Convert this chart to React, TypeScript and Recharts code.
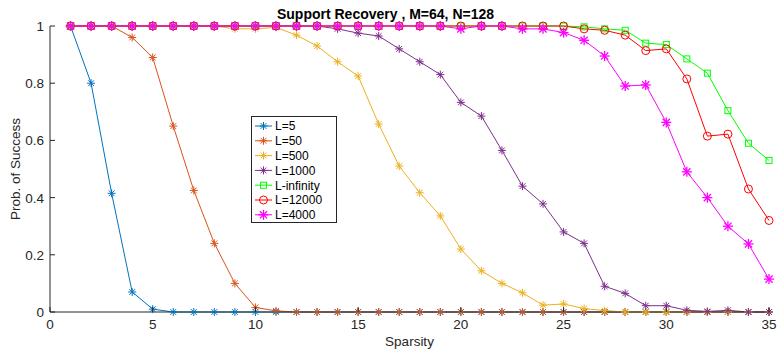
import { LineChart, Line, XAxis, YAxis, Legend, Label } from "recharts";

const sparsity = [1, 2, 3, 4, 5, 6, 7, 8, 9, 10, 11, 12, 13, 14, 15, 16, 17, 18, 19, 20, 21, 22, 23, 24, 25, 26, 27, 28, 29, 30, 31, 32, 33, 34, 35];

const l5 = [1, 0.8, 0.415, 0.07, 0.01, 0, 0, 0, 0, 0, 0, 0, 0, 0, 0, 0, 0, 0, 0, 0, 0, 0, 0, 0, 0, 0, 0, 0, 0, 0, 0, 0, 0, 0, 0];
const l50 = [1, 1, 1, 0.96, 0.89, 0.65, 0.425, 0.24, 0.1, 0.016, 0.004, 0, 0, 0, 0, 0, 0, 0, 0, 0, 0, 0, 0, 0, 0, 0, 0, 0, 0, 0, 0, 0, 0, 0, 0];
const l500 = [1, 1, 1, 1, 1, 1, 1, 1, 0.99, 0.99, 0.995, 0.968, 0.93, 0.875, 0.825, 0.657, 0.51, 0.417, 0.336, 0.22, 0.144, 0.1, 0.067, 0.024, 0.028, 0.012, 0.005, 0, 0, 0, 0, 0, 0, 0, 0];
const l1000 = [1, 1, 1, 1, 1, 1, 1, 1, 1, 1, 1, 1, 1, 0.99, 0.975, 0.965, 0.92, 0.875, 0.83, 0.733, 0.685, 0.565, 0.44, 0.378, 0.28, 0.24, 0.09, 0.065, 0.022, 0.022, 0.006, 0.002, 0.006, 0, 0];
const lInf = [1, 1, 1, 1, 1, 1, 1, 1, 1, 1, 1, 1, 1, 1, 1, 1, 1, 1, 1, 1, 1, 1, 1, 1, 1, 0.997, 0.99, 0.985, 0.94, 0.935, 0.885, 0.835, 0.704, 0.59, 0.53];
const l12000 = [1, 1, 1, 1, 1, 1, 1, 1, 1, 1, 1, 1, 1, 1, 1, 1, 1, 1, 1, 1, 1, 1, 1, 1, 1, 0.99, 0.985, 0.968, 0.914, 0.92, 0.815, 0.615, 0.622, 0.43, 0.32];
const l4000 = [1, 1, 1, 1, 1, 1, 1, 1, 1, 1, 1, 1, 1, 1, 1, 1, 1, 1, 1, 0.99, 1, 1, 0.99, 0.99, 0.977, 0.95, 0.895, 0.79, 0.794, 0.663, 0.49, 0.4, 0.3, 0.238, 0.115];

const xTicks = [0, 5, 10, 15, 20, 25, 30, 35];
const yTicks = [0, 0.2, 0.4, 0.6, 0.8, 1];

type Marker = "star" | "bigstar" | "square" | "circle";

const SERIES: { key: string; name: string; color: string; marker: Marker; values: number[] }[] = [
  { key: "l5", name: "L=5", color: "#0072BD", marker: "star", values: l5 },
  { key: "l50", name: "L=50", color: "#D95319", marker: "star", values: l50 },
  { key: "l500", name: "L=500", color: "#EDB120", marker: "star", values: l500 },
  { key: "l1000", name: "L=1000", color: "#7E2F8E", marker: "star", values: l1000 },
  { key: "linf", name: "L-infinity", color: "#00FF00", marker: "square", values: lInf },
  { key: "l12000", name: "L=12000", color: "#FF0000", marker: "circle", values: l12000 },
  { key: "l4000", name: "L=4000", color: "#FF00FF", marker: "bigstar", values: l4000 },
];

const data = sparsity.map((s, i) => {
  const row: Record<string, number> = { s };
  SERIES.forEach((se) => { row[se.key] = se.values[i]; });
  return row;
});

const AXIS = "#262626";
const FONT = "'Liberation Sans', Arial, sans-serif";

function MarkerShape({ cx, cy, color, marker }: { cx: number; cy: number; color: string; marker: Marker }) {
  if (marker === "square") {
    return <rect x={cx - 3} y={cy - 3} width={6} height={6} fill="none" stroke={color} strokeWidth={1} />;
  }
  if (marker === "circle") {
    return <circle cx={cx} cy={cy} r={4} fill="none" stroke={color} strokeWidth={1} />;
  }
  const r = marker === "bigstar" ? 5 : 4;
  const d = r * 0.72;
  const w = marker === "bigstar" ? 1.3 : 1;
  return (
    <g stroke={color} strokeWidth={w}>
      <line x1={cx - r} y1={cy} x2={cx + r} y2={cy} />
      <line x1={cx} y1={cy - r} x2={cx} y2={cy + r} />
      <line x1={cx - d} y1={cy - d} x2={cx + d} y2={cy + d} />
      <line x1={cx - d} y1={cy + d} x2={cx + d} y2={cy - d} />
    </g>
  );
}

function makeDot(color: string, marker: Marker, key: string) {
  return (props: any) => (
    <g key={`${key}-${props.index}`}>
      <MarkerShape cx={props.cx} cy={props.cy} color={color} marker={marker} />
    </g>
  );
}

function BottomTick({ x, y, payload }: any) {
  return (
    <g>
      <line x1={x} x2={x} y1={y} y2={y - 5} stroke={AXIS} />
      <text x={x} y={y + 17} textAnchor="middle" fill={AXIS} fontSize={13.5} fontFamily={FONT}>{payload.value}</text>
    </g>
  );
}

function TopTick({ x, y }: any) {
  return <line x1={x} x2={x} y1={y} y2={y + 5} stroke={AXIS} />;
}

function LeftTick({ x, y, payload }: any) {
  return (
    <g>
      <line x1={x} x2={x + 5} y1={y} y2={y} stroke={AXIS} />
      <text x={x - 6} y={y + 5} textAnchor="end" fill={AXIS} fontSize={13.5} fontFamily={FONT}>{String(payload.value)}</text>
    </g>
  );
}

function RightTick({ x, y }: any) {
  return <line x1={x} x2={x - 5} y1={y} y2={y} stroke={AXIS} />;
}

function LegendBox() {
  return (
    <div style={{ width: 84, height: 105, border: `1px solid ${AXIS}`, background: "#fff" }}>
      <svg width={84} height={105}>
        {SERIES.map((se, i) => {
          const cy = 9 + i * 14.8;
          return (
            <g key={se.key}>
              <line x1={3} x2={20} y1={cy} y2={cy} stroke={se.color} strokeWidth={1} />
              <MarkerShape cx={11.5} cy={cy} color={se.color} marker={se.marker} />
              <text x={23} y={cy + 4.3} fontSize={12} fontFamily={FONT} fill="#000">{se.name}</text>
            </g>
          );
        })}
      </svg>
    </div>
  );
}

export default function App() {
  return (
    <div style={{ position: "absolute", left: 0, top: 0, width: 777, height: 350, background: "#fff" }}>
      <div style={{ position: "absolute", left: 0, width: 777, top: 6, textAlign: "center", fontFamily: FONT, fontWeight: "bold", fontSize: 14, color: "#000", zIndex: 2 }}>
        <span style={{ position: "relative", left: -3 }}>Support Recovery , M=64, N=128</span>
      </div>
      <LineChart width={777} height={350} data={data} margin={{ top: 26, right: 8, bottom: 0, left: 0 }}>
        <XAxis dataKey="s" type="number" domain={[0, 35]} ticks={xTicks} height={38} tickSize={0} tickMargin={0}
          tickLine={false} axisLine={{ stroke: AXIS }} tick={<BottomTick />} interval={0}>
          <Label value="Sparsity" position="insideBottom" offset={4} fill={AXIS} fontSize={13.5} fontFamily={FONT} />
        </XAxis>
        <XAxis xAxisId="top" orientation="top" dataKey="s" type="number" domain={[0, 35]} ticks={xTicks} height={0}
          tickSize={0} tickMargin={0} tickLine={false} axisLine={{ stroke: AXIS }} tick={<TopTick />} interval={0} />
        <YAxis type="number" domain={[0, 1]} ticks={yTicks} width={50} tickSize={0} tickMargin={0}
          tickLine={false} axisLine={{ stroke: AXIS }} tick={<LeftTick />} interval={0}>
          <Label value="Prob. of Success" angle={-90} position="insideLeft" offset={15} fill={AXIS} fontSize={13.5} fontFamily={FONT} style={{ textAnchor: "middle" }} />
        </YAxis>
        <YAxis yAxisId="right" orientation="right" type="number" domain={[0, 1]} ticks={yTicks} width={0} tickSize={0}
          tickMargin={0} tickLine={false} axisLine={{ stroke: AXIS }} tick={<RightTick />} interval={0} />
        {SERIES.map((se) => (
          <Line key={se.key} dataKey={se.key} name={se.name} stroke={se.color} strokeWidth={1}
            isAnimationActive={false} dot={makeDot(se.color, se.marker, se.key)} activeDot={false} />
        ))}
        <Legend layout="vertical" align="center" verticalAlign="middle" content={() => <LegendBox />}
          wrapperStyle={{ position: "absolute", left: 251, top: 116, width: 86, height: 107 }} />
      </LineChart>
    </div>
  );
}
